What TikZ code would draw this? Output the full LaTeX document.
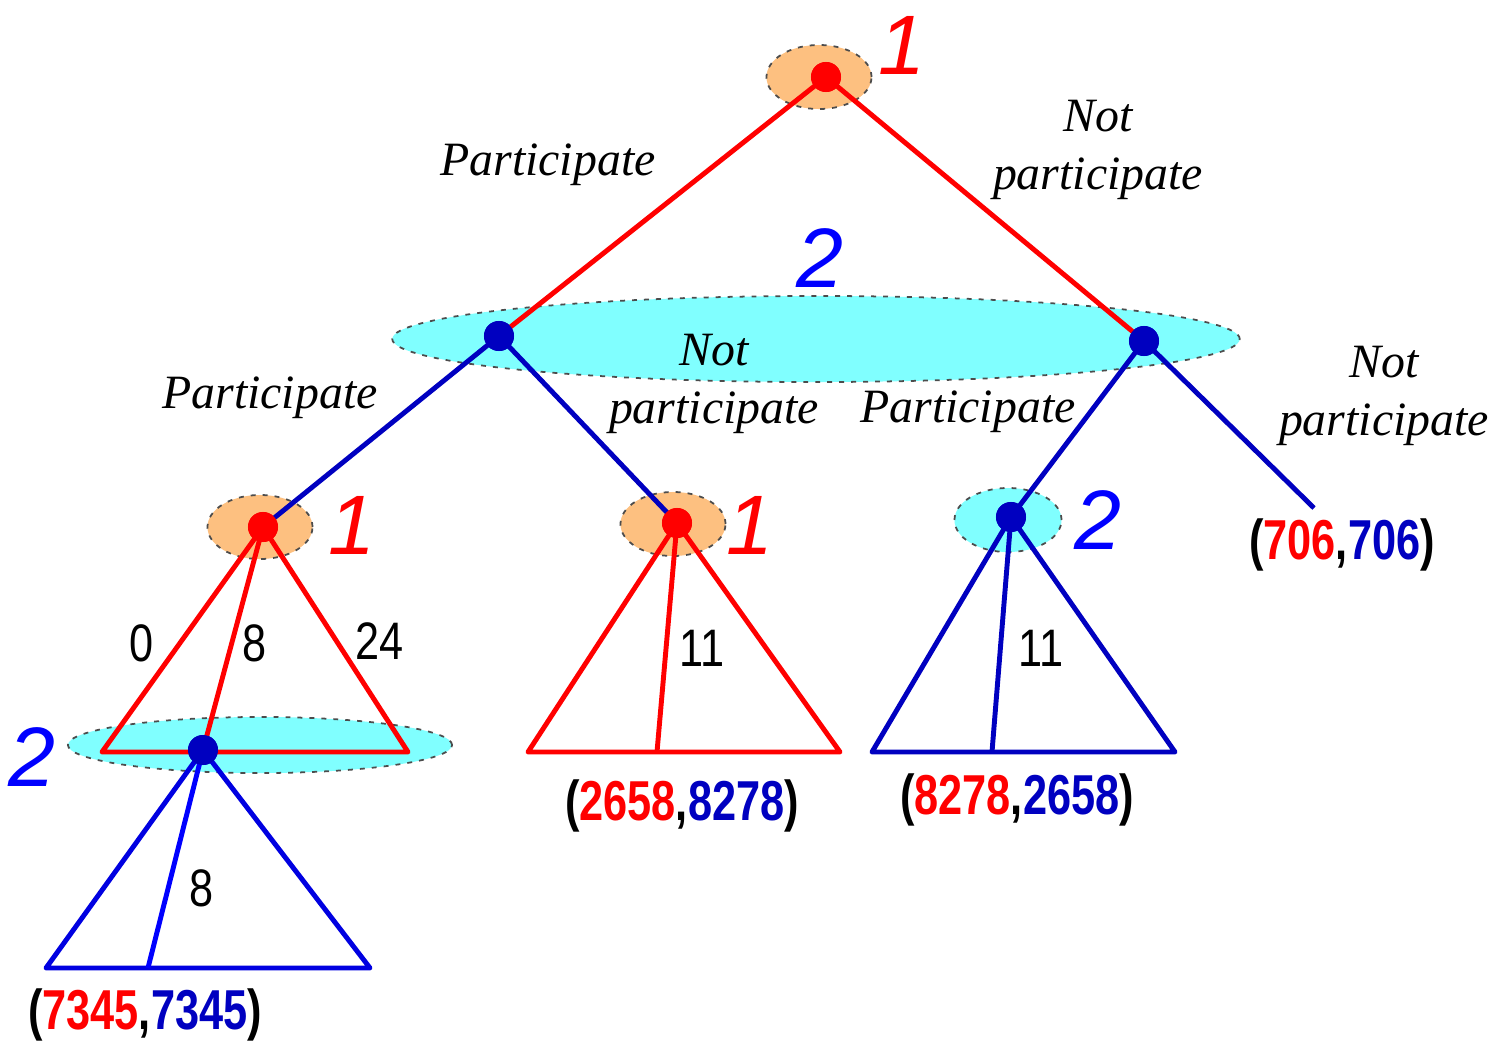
\documentclass[tikz,border=0pt]{standalone}
\usepackage{xcolor}
\usepackage{fontspec}
\usepackage{tikz}
\usetikzlibrary{shapes.geometric, positioning}
\setmainfont{Liberation Serif}
\newfontfamily\numfont{Liberation Sans}
\newfontfamily\payfont[FakeStretch=0.77]{Liberation Sans Bold}
\newfontfamily\narrowfont[FakeStretch=0.82]{Liberation Sans}
\definecolor{dkblue}{RGB}{0,0,192}
\definecolor{trblue}{RGB}{0,0,225}
\definecolor{setorange}{RGB}{253,192,128}
\definecolor{setcyan}{RGB}{128,255,255}
\begin{document}
\begin{tikzpicture}[
  x=0.01cm, y=-0.01cm,
  % info sets
  infoset/.style={ellipse, draw=black!70, dash pattern=on 1.4pt off 2pt,
                  line width=0.5pt, inner sep=0pt},
  orset/.style={infoset, fill=setorange, minimum width=1.05cm, minimum height=0.64cm},
  cyset/.style={infoset, fill=setcyan},
  % decision nodes
  dot/.style={circle, inner sep=0pt, minimum size=0.3cm},
  pone/.style={dot, fill=red},
  ptwo/.style={dot, fill=dkblue},
  % edges
  redge/.style={red, line width=1.4pt, line join=round},
  bedge/.style={dkblue, line width=1.4pt, line join=round},
  % labels
  move/.style={font=\fontsize{13.6}{16.4}\selectfont\itshape, align=center},
  plone/.style={font=\fontsize{24}{26}\selectfont\numfont\itshape, text=red},
  pltwo/.style={font=\fontsize{24}{26}\selectfont\numfont\itshape, text=blue},
  val/.style={font=\fontsize{15}{17}\selectfont\narrowfont},
  pay/.style={font=\fontsize{16}{18}\selectfont\payfont},
]
\useasboundingbox (0,0) rectangle (1499,1045);

% ---- INFORMATION SETS ----
\node[orset] (s1)  at (819,77)  {};
\node[cyset, minimum width=8.47cm, minimum height=0.86cm] (s2) at (816,339) {};
\node[orset] (s3)  at (260,527) {};
\node[orset] (s4)  at (673,524) {};
\node[cyset, minimum width=1.07cm, minimum height=0.64cm] (s5) at (1008,520) {};
\node[cyset, minimum width=3.84cm, minimum height=0.56cm] (s6) at (260,745) {};

% ---- NODES ----
\node[pone] (root) at (826,77)  {};
\node[ptwo] (a)    at (499,336) {};
\node[ptwo] (b)    at (1144,341) {};
\node[pone] (aa)   at (263,527) {};
\node[pone] (ab)   at (677,523) {};
\node[ptwo] (ba)   at (1011,517) {};
\coordinate (bb)   at (1314,508);
\node[ptwo] (aaa)  at (203,750) {};

% triangle corners
\coordinate (aaL) at (102,752);  \coordinate (aaR) at (408,752);
\coordinate (abL) at (528,752);  \coordinate (abR) at (840,752);
\coordinate (abM) at (657,752);
\coordinate (baL) at (872,752);  \coordinate (baR) at (1175,752);
\coordinate (baM) at (992,752);
\coordinate (cL)  at (46,968);   \coordinate (cR)  at (370,968);
\coordinate (cM)  at (148,968);

% ---- EDGES ----
\draw[redge] (root.center) -- (a.center);
\draw[redge] (root.center) -- (b.center);
\draw[bedge] (a.center) -- (aa.center);
\draw[bedge] (a.center) -- (ab.center);
\draw[bedge] (b.center) -- (ba.center);
\draw[bedge] (b.center) -- (bb);

% ---- TRIANGLES ----
\draw[redge] (aaL) -- (aa.center) -- (aaR) -- cycle;
\draw[redge] (aa.center) -- (aaa.center);
\draw[redge] (abL) -- (ab.center) -- (abR) -- cycle;
\draw[redge] (ab.center) -- (abM);
\draw[bedge] (baL) -- (ba.center) -- (baR) -- cycle;
\draw[bedge] (ba.center) -- (baM);
\draw[bedge, trblue] (cL) -- (aaa.center) -- (cR) -- cycle;
\draw[bedge, blue] (aaa.center) -- (cM);

% redraw dots on top
\foreach \n in {root, aa, ab}
  \fill[red] (\n) circle (0.15cm);
\foreach \n in {a, b, ba, aaa}
  \fill[dkblue] (\n) circle (0.15cm);

% ---- PLAYER LABELS ----
\node[plone] (l1) at (902,45)  {1};
\node[pltwo] (l2) at (820,258) {2};
\node[plone] (l3) at (352,525) {1};
\node[plone] (l4) at (750,525) {1};
\node[pltwo] (l5) at (1098,520) {2};
\node[pltwo] (l6) at (32,757)  {2};

% ---- MOVES ----
\node[move] (m1) at (548,165)  {Participate};
\node[move] (m2) at (1098,150) {Not\\participate};
\node[move] (m3) at (270,398)  {Participate};
\node[move] (m4) at (714,384)  {Not\\participate};
\node[move] (m5) at (968,412)  {Participate};
\node[move] (m6) at (1384,396) {Not\\participate};

% ---- VALUES ----
\node[val] (v1) at (142,643) {0};
\node[val] (v2) at (255,643) {8};
\node[val] (v3) at (380,641) {24};
\node[val] (v4) at (702,648) {11};
\node[val] (v5) at (1041,648) {11};
\node[val] (v6) at (202,888) {8};

% ---- PAYOFFS ----
\node[pay] (p1) at (145,1015) {({\color{red}7345},{\color{dkblue}7345})};
\node[pay] (p2) at (682,806)  {({\color{red}2658},{\color{dkblue}8278})};
\node[pay] (p3) at (1017,800) {({\color{red}8278},{\color{dkblue}2658})};
\node[pay] (p4) at (1342,545) {({\color{red}706},{\color{dkblue}706})};

\end{tikzpicture}
\end{document}
